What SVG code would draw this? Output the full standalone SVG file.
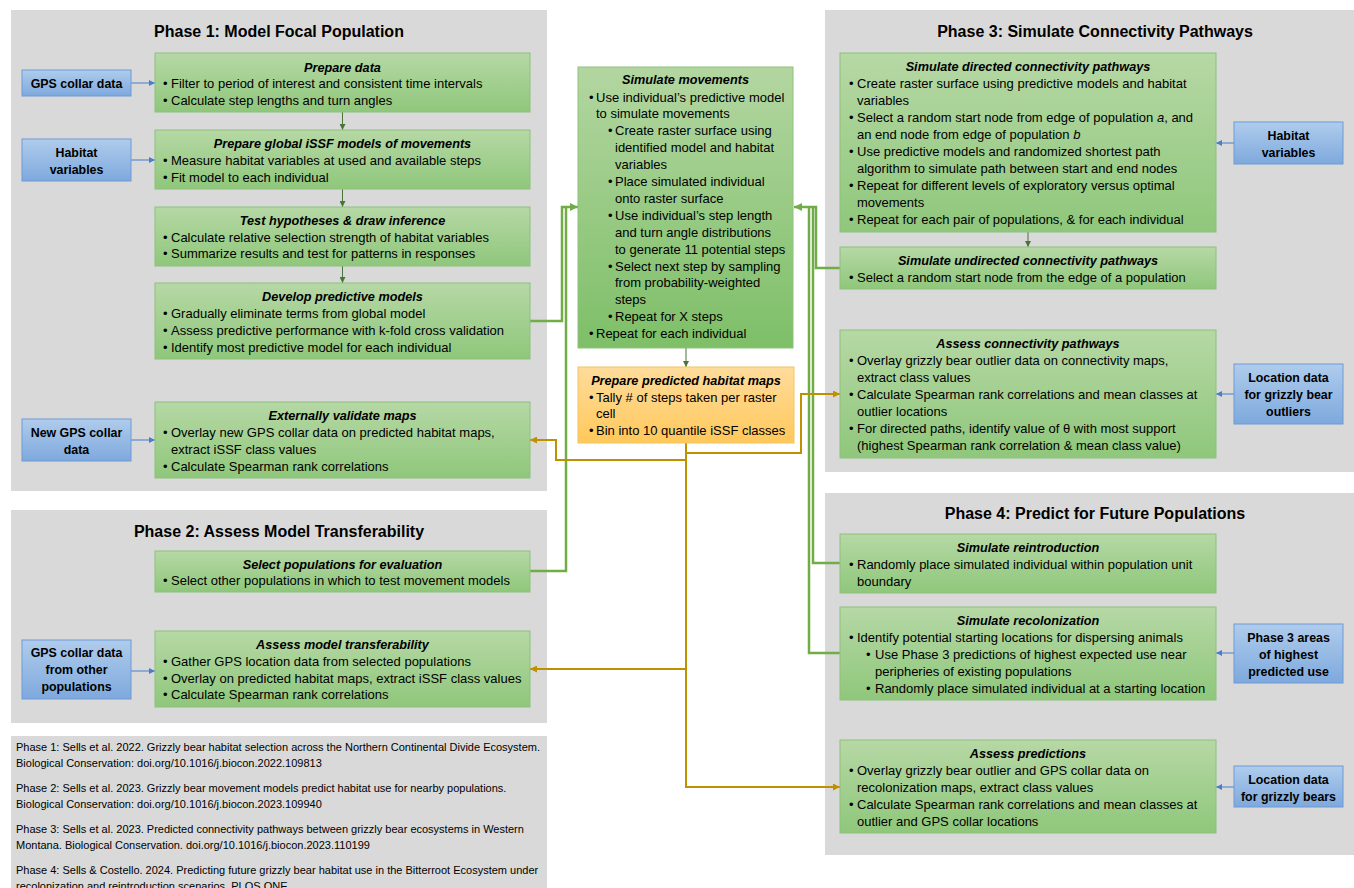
<svg xmlns="http://www.w3.org/2000/svg" width="1354" height="888" viewBox="0 0 1354 888">
<defs>
<linearGradient id="gg" x1="0" y1="0" x2="0" y2="1"><stop offset="0" stop-color="#B6D8A5"/><stop offset="1" stop-color="#8FC77B"/></linearGradient>
<linearGradient id="gg2" x1="0" y1="0" x2="0" y2="1"><stop offset="0" stop-color="#B3D6A1"/><stop offset="1" stop-color="#7EBF68"/></linearGradient>
<linearGradient id="bg" x1="0" y1="0" x2="0" y2="1"><stop offset="0" stop-color="#AFCCEC"/><stop offset="1" stop-color="#7EA9DD"/></linearGradient>
<linearGradient id="og" x1="0" y1="0" x2="0" y2="1"><stop offset="0" stop-color="#FFDC9C"/><stop offset="1" stop-color="#FFC85B"/></linearGradient>
<marker id="mg" viewBox="0 0 10 10" refX="10" refY="5" markerUnits="userSpaceOnUse" markerWidth="9" markerHeight="8" orient="auto"><path d="M0,0 L10,5 L0,10 z" fill="#70AD47"/></marker>
<marker id="mo" viewBox="0 0 10 10" refX="10" refY="5" markerUnits="userSpaceOnUse" markerWidth="8" markerHeight="7" orient="auto"><path d="M0,0 L10,5 L0,10 z" fill="#BF9000"/></marker>
<marker id="mb" viewBox="0 0 10 10" refX="10" refY="5" markerUnits="userSpaceOnUse" markerWidth="7" markerHeight="6" orient="auto"><path d="M0,0 L10,5 L0,10 z" fill="#4A7EC8"/></marker>
<marker id="md" viewBox="0 0 10 10" refX="10" refY="5" markerUnits="userSpaceOnUse" markerWidth="7" markerHeight="6" orient="auto"><path d="M0,0 L10,5 L0,10 z" fill="#4B7438"/></marker>
</defs>
<style>
.panel{fill:#D9D9D9}
.g{fill:url(#gg);stroke:#8CC27A;stroke-width:1}
.g2{fill:url(#gg2);stroke:#8CC27A;stroke-width:1}
.b{fill:url(#bg);stroke:#6E9BD5;stroke-width:1}
.o{fill:url(#og);stroke:#F2C462;stroke-width:1}
text{font-family:"Liberation Sans",Arial,sans-serif;font-size:13px;fill:#000}
.ti{font-weight:bold;font-style:italic;text-anchor:middle;font-size:12.7px}
.h{font-size:16px;font-weight:bold;text-anchor:middle}
.bl{font-weight:bold;text-anchor:middle;font-size:12.4px}
.ref{font-size:11px}
.cg{fill:none;stroke:#70AD47;stroke-width:2.5}
.co{fill:none;stroke:#BF9000;stroke-width:2}
.cb{fill:none;stroke:#5B8BD0;stroke-width:1.2}
.cd{fill:none;stroke:#4B7438;stroke-width:1}
</style>

<!-- panels -->
<g id="panel-phase1"><rect class="panel" x="11" y="10" width="536" height="481"/><text class="h" x="279" y="37">Phase 1: Model Focal Population</text></g>
<g id="panel-phase2"><rect class="panel" x="11" y="510" width="536" height="213"/><text class="h" x="279" y="537">Phase 2: Assess Model Transferability</text></g>
<g id="panel-phase3"><rect class="panel" x="825" y="10" width="540" height="462"/><text class="h" x="1095" y="37">Phase 3: Simulate Connectivity Pathways</text></g>
<g id="panel-phase4"><rect class="panel" x="825" y="493" width="540" height="362"/><text class="h" x="1095" y="519">Phase 4: Predict for Future Populations</text></g>
<g id="panel-refs"><rect class="panel" x="11" y="736" width="536" height="160"/>
<text class="ref" x="16" y="750.5">Phase 1: Sells et al. 2022. Grizzly bear habitat selection across the Northern Continental Divide Ecosystem.</text>
<text class="ref" x="16" y="767">Biological Conservation: doi.org/10.1016/j.biocon.2022.109813</text>
<text class="ref" x="16" y="791.5">Phase 2: Sells et al. 2023. Grizzly bear movement models predict habitat use for nearby populations.</text>
<text class="ref" x="16" y="808">Biological Conservation: doi.org/10.1016/j.biocon.2023.109940</text>
<text class="ref" x="16" y="832.5">Phase 3: Sells et al. 2023. Predicted connectivity pathways between grizzly bear ecosystems in Western</text>
<text class="ref" x="16" y="849">Montana. Biological Conservation. doi.org/10.1016/j.biocon.2023.110199</text>
<text class="ref" x="16" y="873.5">Phase 4: Sells &amp; Costello. 2024. Predicting future grizzly bear habitat use in the Bitterroot Ecosystem under</text>
<text class="ref" x="16" y="890">recolonization and reintroduction scenarios. PLOS ONE.</text>
</g>

<!-- connectors -->
<g id="connectors">
<path class="cg" d="M530,321 H562 V207 H578" marker-end="url(#mg)"/>
<path class="cg" d="M530,571 H566 V207"/>
<path class="cg" d="M840,268 H816 V207 H794" marker-end="url(#mg)"/>
<path class="cg" d="M840,563 H813 V207"/>
<path class="cg" d="M840,653 H809 V207"/>
<path class="co" d="M686,443 V787 H840" marker-end="url(#mo)"/>
<path class="co" d="M686,453 H801 V394 H840" marker-end="url(#mo)"/>
<path class="co" d="M686,460 H556 V440 H530" marker-end="url(#mo)"/>
<path class="co" d="M686,669 H530" marker-end="url(#mo)"/>
<path class="cb" d="M131,83 H155" marker-end="url(#mb)"/>
<path class="cb" d="M131,160 H155" marker-end="url(#mb)"/>
<path class="cb" d="M131,440 H155" marker-end="url(#mb)"/>
<path class="cb" d="M131,671 H155" marker-end="url(#mb)"/>
<path class="cb" d="M1234,143 H1216" marker-end="url(#mb)"/>
<path class="cb" d="M1234,394 H1216" marker-end="url(#mb)"/>
<path class="cb" d="M1234,653 H1216" marker-end="url(#mb)"/>
<path class="cb" d="M1234,787 H1216" marker-end="url(#mb)"/>
<path class="cd" d="M342.5,112 V130" marker-end="url(#md)"/>
<path class="cd" d="M342.5,189 V207" marker-end="url(#md)"/>
<path class="cd" d="M342.5,266 V283" marker-end="url(#md)"/>
<path class="cd" d="M686,348 V367" marker-end="url(#md)"/>
<path class="cd" d="M1028,232 V247" marker-end="url(#md)"/>
</g>

<!-- Phase 1 nodes -->
<g id="n-gps"><rect class="b" x="22" y="70" width="109" height="26"/><text class="bl" x="76.5" y="87.5">GPS collar data</text></g>
<g id="n-prepare-data"><rect class="g" x="155" y="53" width="375" height="59"/>
<text class="ti" x="342.5" y="71.5">Prepare data</text>
<text x="163" y="87.5">•</text><text x="171" y="87.5">Filter to period of interest and consistent time intervals</text>
<text x="163" y="104.5">•</text><text x="171" y="104.5">Calculate step lengths and turn angles</text></g>
<g id="n-habitat1"><rect class="b" x="22" y="139" width="109" height="42"/><text class="bl" x="76.5" y="156.5">Habitat</text><text class="bl" x="76.5" y="173.5">variables</text></g>
<g id="n-global"><rect class="g" x="155" y="130" width="375" height="59"/>
<text class="ti" x="342.5" y="147.5">Prepare global iSSF models of movements</text>
<text x="163" y="164.5">•</text><text x="171" y="164.5">Measure habitat variables at used and available steps</text>
<text x="163" y="181.5">•</text><text x="171" y="181.5">Fit model to each individual</text></g>
<g id="n-test"><rect class="g" x="155" y="207" width="375" height="59"/>
<text class="ti" x="342.5" y="224.5">Test hypotheses &amp; draw inference</text>
<text x="163" y="241.5">•</text><text x="171" y="241.5">Calculate relative selection strength of habitat variables</text>
<text x="163" y="257.5">•</text><text x="171" y="257.5">Summarize results and test for patterns in responses</text></g>
<g id="n-develop"><rect class="g" x="155" y="283" width="375" height="76"/>
<text class="ti" x="342.5" y="300.5">Develop predictive models</text>
<text x="163" y="317.5">•</text><text x="171" y="317.5">Gradually eliminate terms from global model</text>
<text x="163" y="334.5">•</text><text x="171" y="334.5">Assess predictive performance with k-fold cross validation</text>
<text x="163" y="351.5">•</text><text x="171" y="351.5">Identify most predictive model for each individual</text></g>
<g id="n-newgps"><rect class="b" x="22" y="419" width="109" height="42"/><text class="bl" x="76.5" y="436.5">New GPS collar</text><text class="bl" x="76.5" y="453.5">data</text></g>
<g id="n-validate"><rect class="g" x="155" y="402" width="375" height="76"/>
<text class="ti" x="342.5" y="419.5">Externally validate maps</text>
<text x="163" y="436.5">•</text><text x="171" y="436.5">Overlay new GPS collar data on predicted habitat maps,</text>
<text x="171" y="453.5">extract iSSF class values</text>
<text x="163" y="470.5">•</text><text x="171" y="470.5">Calculate Spearman rank correlations</text></g>

<!-- Phase 2 nodes -->
<g id="n-select"><rect class="g" x="155" y="551" width="375" height="41"/>
<text class="ti" x="342.5" y="568.5">Select populations for evaluation</text>
<text x="163" y="584.5">•</text><text x="171" y="584.5">Select other populations in which to test movement models</text></g>
<g id="n-gpsother"><rect class="b" x="22" y="640" width="109" height="59"/><text class="bl" x="76.5" y="657">GPS collar data</text><text class="bl" x="76.5" y="674">from other</text><text class="bl" x="76.5" y="691">populations</text></g>
<g id="n-transfer"><rect class="g" x="155" y="631" width="375" height="76"/>
<text class="ti" x="342.5" y="648.5">Assess model transferability</text>
<text x="163" y="665.5">•</text><text x="171" y="665.5">Gather GPS location data from selected populations</text>
<text x="163" y="682.5">•</text><text x="171" y="682.5">Overlay on predicted habitat maps, extract iSSF class values</text>
<text x="163" y="698.5">•</text><text x="171" y="698.5">Calculate Spearman rank correlations</text></g>

<!-- middle nodes -->
<g id="n-simulate"><rect class="g2" x="578" y="67" width="215" height="281"/>
<text class="ti" x="685.5" y="83.5">Simulate movements</text>
<text x="589" y="101.5">•</text><text x="596" y="101.5">Use individual’s predictive model</text>
<text x="596" y="118.4">to simulate movements</text>
<text x="608" y="135.3">•</text><text x="615" y="135.3">Create raster surface using</text>
<text x="615" y="152.2">identified model and habitat</text>
<text x="615" y="169.1">variables</text>
<text x="608" y="186">•</text><text x="615" y="186">Place simulated individual</text>
<text x="615" y="202.9">onto raster surface</text>
<text x="608" y="219.8">•</text><text x="615" y="219.8">Use individual’s step length</text>
<text x="615" y="236.7">and turn angle distributions</text>
<text x="615" y="253.6">to generate 11 potential steps</text>
<text x="608" y="270.5">•</text><text x="615" y="270.5">Select next step by sampling</text>
<text x="615" y="287.4">from probability-weighted</text>
<text x="615" y="304.3">steps</text>
<text x="608" y="321.2">•</text><text x="615" y="321.2">Repeat for X steps</text>
<text x="589" y="338.1">•</text><text x="596" y="338.1">Repeat for each individual</text></g>
<g id="n-maps"><rect class="o" x="578" y="367" width="216" height="76"/>
<text class="ti" x="686" y="384.5">Prepare predicted habitat maps</text>
<text x="589" y="401.5">•</text><text x="596" y="401.5">Tally # of steps taken per raster</text>
<text x="596" y="417.5">cell</text>
<text x="589" y="434.5">•</text><text x="596" y="434.5">Bin into 10 quantile iSSF classes</text></g>

<!-- Phase 3 nodes -->
<g id="n-directed"><rect class="g" x="840" y="53" width="376" height="179"/>
<text class="ti" x="1028" y="70.5">Simulate directed connectivity pathways</text>
<text x="849" y="87.5">•</text><text x="857" y="87.5">Create raster surface using predictive models and habitat</text>
<text x="857" y="104.5">variables</text>
<text x="849" y="121.5">•</text><text x="857" y="121.5">Select a random start node from edge of population <tspan font-style="italic">a</tspan>, and</text>
<text x="857" y="138.5">an end node from edge of population <tspan font-style="italic">b</tspan></text>
<text x="849" y="155.5">•</text><text x="857" y="155.5">Use predictive models and randomized shortest path</text>
<text x="857" y="172.5">algorithm to simulate path between start and end nodes</text>
<text x="849" y="189.5">•</text><text x="857" y="189.5">Repeat for different levels of exploratory versus optimal</text>
<text x="857" y="206.5">movements</text>
<text x="849" y="223.5">•</text><text x="857" y="223.5">Repeat for each pair of populations, &amp; for each individual</text></g>
<g id="n-habitat3"><rect class="b" x="1234" y="122" width="109" height="42"/><text class="bl" x="1288.5" y="139.5">Habitat</text><text class="bl" x="1288.5" y="156.5">variables</text></g>
<g id="n-undirected"><rect class="g" x="840" y="247" width="376" height="42"/>
<text class="ti" x="1028" y="264.5">Simulate undirected connectivity pathways</text>
<text x="849" y="281.5">•</text><text x="857" y="281.5">Select a random start node from the edge of a population</text></g>
<g id="n-assessconn"><rect class="g" x="840" y="330" width="376" height="128"/>
<text class="ti" x="1028" y="347.5">Assess connectivity pathways</text>
<text x="849" y="364.5">•</text><text x="857" y="364.5">Overlay grizzly bear outlier data on connectivity maps,</text>
<text x="857" y="381.5">extract class values</text>
<text x="849" y="398.5">•</text><text x="857" y="398.5">Calculate Spearman rank correlations and mean classes at</text>
<text x="857" y="415.5">outlier locations</text>
<text x="849" y="432.5">•</text><text x="857" y="432.5">For directed paths, identify value of θ with most support</text>
<text x="857" y="449.5">(highest Spearman rank correlation &amp; mean class value)</text></g>
<g id="n-outliers"><rect class="b" x="1234" y="364" width="109" height="60"/><text class="bl" x="1288.5" y="381.5">Location data</text><text class="bl" x="1288.5" y="398.5">for grizzly bear</text><text class="bl" x="1288.5" y="415.5">outliers</text></g>

<!-- Phase 4 nodes -->
<g id="n-reintro"><rect class="g" x="840" y="534" width="376" height="59"/>
<text class="ti" x="1028" y="551.5">Simulate reintroduction</text>
<text x="849" y="568.5">•</text><text x="857" y="568.5">Randomly place simulated individual within population unit</text>
<text x="857" y="585.5">boundary</text></g>
<g id="n-recolon"><rect class="g" x="840" y="607" width="376" height="93"/>
<text class="ti" x="1028" y="624.5">Simulate recolonization</text>
<text x="849" y="641.5">•</text><text x="857" y="641.5">Identify potential starting locations for dispersing animals</text>
<text x="866" y="658.5">•</text><text x="875" y="658.5">Use Phase 3 predictions of highest expected use near</text>
<text x="875" y="675.5">peripheries of existing populations</text>
<text x="866" y="692.5">•</text><text x="875" y="692.5">Randomly place simulated individual at a starting location</text></g>
<g id="n-areas"><rect class="b" x="1234" y="624" width="109" height="59"/><text class="bl" x="1288.5" y="641.5">Phase 3 areas</text><text class="bl" x="1288.5" y="658.5">of highest</text><text class="bl" x="1288.5" y="675.5">predicted use</text></g>
<g id="n-assesspred"><rect class="g" x="840" y="740" width="376" height="93"/>
<text class="ti" x="1028" y="757.5">Assess predictions</text>
<text x="849" y="774.5">•</text><text x="857" y="774.5">Overlay grizzly bear outlier and GPS collar data on</text>
<text x="857" y="791.5">recolonization maps, extract class values</text>
<text x="849" y="808.5">•</text><text x="857" y="808.5">Calculate Spearman rank correlations and mean classes at</text>
<text x="857" y="825.5">outlier and GPS collar locations</text></g>
<g id="n-bears"><rect class="b" x="1234" y="766" width="109" height="41"/><text class="bl" x="1288.5" y="783.5">Location data</text><text class="bl" x="1288.5" y="800.5">for grizzly bears</text></g>
</svg>
